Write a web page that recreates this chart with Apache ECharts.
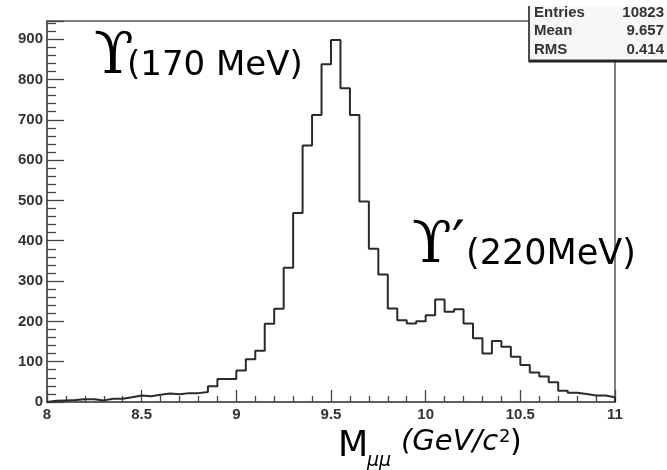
<!DOCTYPE html>
<html>
<head>
<meta charset="utf-8">
<script src="https://cdn.jsdelivr.net/npm/echarts@6/dist/echarts.min.js"></script>
<style>
  html, body { margin: 0; padding: 0; background: #fff; }
  #chart { width: 667px; height: 470px; }
</style>
</head>
<body>
<div id="chart"></div>
<script>
// histogram: 60 bins of 0.05 GeV from 8 to 11
var binStart = 8;
var binWidth = 0.05;
var counts = [
    3, 4, 5, 7, 7, 4, 8, 8, 12, 16,
    14, 18, 21, 19, 22, 22, 25, 39, 57, 57,
    78, 106, 127, 194, 231, 333, 469, 636, 712, 838,
    898, 778, 712, 497, 380, 316, 232, 203, 195, 200,
    215, 254, 224, 230, 195, 158, 120, 151, 137, 112,
    92, 73, 63, 49, 28, 23, 20, 16, 16, 12
];
var statNames = ['Entries', 'Mean', 'RMS'];
var statValues = ['10823', '9.657', '0.414'];

var pts = [[binStart, 0]];
counts.forEach(function (c, i) {
    pts.push([binStart + i * binWidth, c]);
});
pts.push([binStart + counts.length * binWidth, counts[counts.length - 1]]);
pts.push([binStart + counts.length * binWidth, 0]);

var labelFont = {
    color: '#333',
    fontFamily: 'Liberation Sans',
    fontWeight: 'bold',
    fontSize: 15
};

var statText = [];
statNames.forEach(function (n, i) {
    statText.push({
        type: 'text', z: 102, left: 534, top: 5 + i * 18.5,
        style: { text: n, fill: '#333', font: 'bold 15px "Liberation Sans"' }
    });
    statText.push({
        type: 'text', z: 102, right: 3, top: 5 + i * 18.5,
        style: { text: statValues[i], fill: '#333', font: 'bold 15px "Liberation Sans"', textAlign: 'right' }
    });
});

var chart = echarts.init(document.getElementById('chart'));
chart.setOption({
    animation: false,
    backgroundColor: '#fff',
    grid: {
        left: 47, right: 52, top: 21, bottom: 68,
        show: true, borderColor: '#555', borderWidth: 1.5, backgroundColor: '#fff'
    },
    xAxis: {
        type: 'value', min: 8, max: 11, interval: 0.5,
        axisLine: { show: true, lineStyle: { color: '#555', width: 1.5 } },
        axisTick: { show: true, inside: true, length: 12, lineStyle: { color: '#444', width: 1.3 } },
        minorTick: { show: true, splitNumber: 5, length: 6, lineStyle: { color: '#444', width: 1.3 } },
        splitLine: { show: false },
        axisLabel: Object.assign({ margin: 5 }, labelFont)
    },
    yAxis: {
        type: 'value', min: 0, max: 945, interval: 100,
        axisLine: { show: true, lineStyle: { color: '#555', width: 1.5 } },
        axisTick: { show: true, inside: true, length: 17, lineStyle: { color: '#444', width: 1.3 } },
        minorTick: { show: true, splitNumber: 5, length: 9, lineStyle: { color: '#444', width: 1.3 } },
        splitLine: { show: false },
        axisLabel: Object.assign({ margin: 4, showMaxLabel: false }, labelFont)
    },
    series: [{
        type: 'line',
        step: 'end',
        symbol: 'none',
        data: pts,
        lineStyle: { color: '#2a2a2a', width: 2 }
    }],
    graphic: [
        // stats box
        {
            type: 'rect', z: 100,
            shape: { x: 529, y: -10, width: 160, height: 70 },
            style: { fill: '#f7f7f7', stroke: '#333', lineWidth: 1.2,
                     shadowColor: '#222', shadowOffsetX: 0, shadowOffsetY: 2, shadowBlur: 0 }
        }
    ].concat(statText).concat([
        { type: 'rect', z: 103, shape: { x: 520, y: 0, width: 147, height: 6 }, style: { fill: '#fff' } },
        // annotations
        { type: 'text', z: 50, left: 94, top: 29,
          style: { text: 'ϒ', fill: '#000', font: '58px "DejaVu Serif"' } },
        { type: 'text', z: 50, left: 127, top: 49,
          style: { text: '(170 MeV)', fill: '#000', font: '34px "DejaVu Sans"' } },
        { type: 'text', z: 50, left: 412, top: 218,
          style: { text: 'ϒ′', fill: '#000', font: '58px "DejaVu Serif"' } },
        { type: 'text', z: 50, left: 466, top: 237,
          style: { text: '(220MeV)', fill: '#000', font: '35px "DejaVu Sans"' } },
        // x axis title
        { type: 'text', z: 50, left: 338, top: 429,
          style: { text: 'M', fill: '#000', font: '35px "DejaVu Sans"' } },
        { type: 'text', z: 50, left: 367, top: 452,
          style: { text: 'μμ', fill: '#000', font: 'italic 19px "DejaVu Sans"' } },
        { type: 'text', z: 50, left: 401, top: 428,
          style: { text: '(GeV/c', fill: '#000', font: 'italic 29px "DejaVu Sans"' } },
        { type: 'text', z: 50, left: 499, top: 428,
          style: { text: '2', fill: '#000', font: '18px "DejaVu Sans"' } },
        { type: 'text', z: 50, left: 510, top: 428,
          style: { text: ')', fill: '#000', font: '30px "DejaVu Sans"' } }
    ])
});
</script>
</body>
</html>
